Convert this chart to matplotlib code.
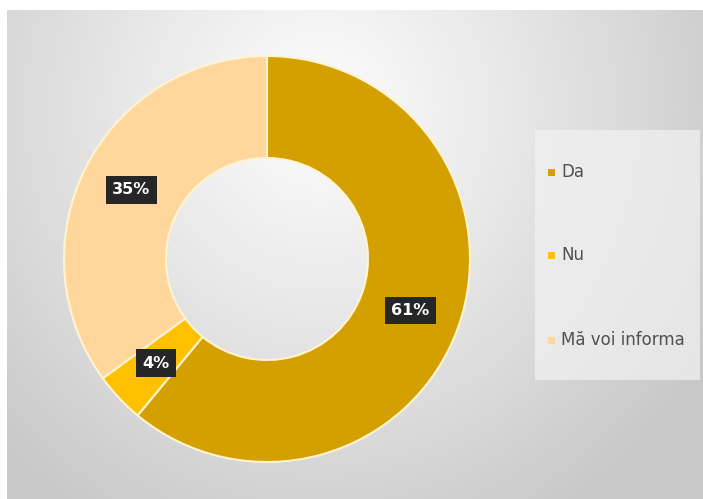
import numpy as np
import matplotlib
matplotlib.use("Agg")
import matplotlib.pyplot as plt
from matplotlib.patches import Rectangle

categories = ["Da", "Nu", "Mă voi informa"]
values = [61, 4, 35]
colors = ["#D4A000", "#FFC000", "#FFD79C"]

W, H = 703, 499
fig = plt.figure(figsize=(W / 100, H / 100), dpi=100)
fig.patch.set_facecolor("white")
ax = fig.add_axes([0, 0, 1, 1])
ax.set_xlim(0, W)
ax.set_ylim(0, H)
ax.axis("off")

# background panel with radial gradient (pixel coords)
x0p, y0p = 7, 10
xs = np.arange(x0p, W) + 0.5
ys = np.arange(y0p, H) + 0.5
X, Y = np.meshgrid(xs, ys)
r = np.sqrt(((X - 320) / 450.0) ** 2 + ((Y - 110) / 480.0) ** 2)
t = np.clip(r, 0, 1) ** 1.1
v = (252 - 52 * t) / 255.0
img = np.dstack([v, v, v])
ax.imshow(img, extent=(x0p, W, 0, H - y0p), origin="upper", zorder=0,
          interpolation="bilinear", aspect="auto")

cx, cy = 267, H - 259
R = 203
wedges, _, autotexts = ax.pie(
    values, colors=colors, startangle=90, counterclock=False,
    radius=R, center=(cx, cy), frame=True,
    autopct=lambda p: f"{p:.0f}%", pctdistance=0.75,
    wedgeprops=dict(width=R - 101, edgecolor="#FFF4D2", linewidth=1.5),
    textprops=dict(color="white", fontsize=11.5, fontweight="bold"),
)
for t_ in autotexts:
    t_.set_bbox(dict(boxstyle="square,pad=0.4", facecolor="#262626", edgecolor="none"))
    t_.set_zorder(5)

ax.set_xlim(0, W)
ax.set_ylim(0, H)
ax.set_aspect("auto")
ax.set_position([0, 0, 1, 1])
ax.axis("off")

# legend drawn manually in pixel coordinates
ax.add_patch(Rectangle((535, H - 380), 165, 250, facecolor="#F2F2F2",
                       edgecolor="none", alpha=0.7, zorder=3))
leg_y = [172, 255, 340]
for c, lab, yy in zip(colors, categories, leg_y):
    ax.add_patch(Rectangle((548, H - yy - 3.5), 7, 7, facecolor=c,
                           edgecolor="none", zorder=4))
    ax.text(561, H - yy, lab, fontsize=12, color="#505050",
            va="center", ha="left", zorder=4)

fig.savefig("out.png", dpi=100)
